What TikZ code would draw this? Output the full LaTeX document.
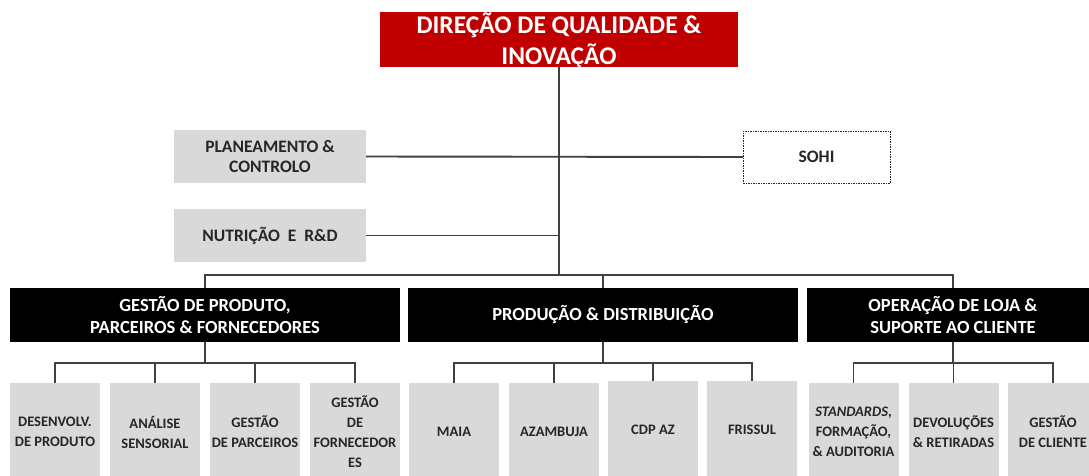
\documentclass[tikz,border=0pt]{standalone}
\usepackage{fontspec}
\setmainfont{Carlito}
\definecolor{redbox}{HTML}{C00000}
\definecolor{graybox}{HTML}{D9D9D9}
\definecolor{linec}{HTML}{404040}
\definecolor{txt}{HTML}{262626}
\begin{document}
\begin{tikzpicture}[x=1pt,y=-1pt,
  base/.style={inner sep=0pt, outer sep=0pt, align=center, font=\bfseries},
  topbox/.style={inner sep=0pt, outer sep=0pt, fill=redbox, text=white, font=\fontsize{25.5}{31.5}\selectfont\bfseries},
  midbox/.style={base, fill=graybox, text=txt, minimum width=192pt, minimum height=53pt, font=\fontsize{17.5}{20.5}\selectfont\bfseries},
  sohibox/.style={base, draw=txt, line width=1pt, dash pattern=on 1.5pt off 1pt, text=txt, minimum width=147pt, minimum height=52pt, font=\fontsize{17.5}{20.5}\selectfont\bfseries},
  blackbox/.style={base, fill=black, text=white, minimum height=54pt, font=\fontsize{18.5}{22.5}\selectfont\bfseries},
  childbox/.style={base, fill=graybox, text=txt, minimum width=90pt, minimum height=98pt, font=\fontsize{14.5}{20}\selectfont\bfseries},
  conn/.style={draw=linec, line width=1.9pt}
]
\useasboundingbox (0,0) rectangle (1089,475);
\clip (0,0) rectangle (1089,475);
\fill[white] (0,0) rectangle (1089,475);

% top
\node[topbox] (top) at (559,39.5) {\parbox[c][55pt][c]{358pt}{\centering\vspace*{3pt}DIREÇÃO DE QUALIDADE \&\\INOVAÇÃO}};
% staff
\node[midbox] (plan) at (270,156.5) {PLANEAMENTO \&\\CONTROLO};
\node[midbox] (nutr) at (270,235.5) {NUTRIÇÃO\ \ E\ \ R\&D};
\node[sohibox] (sohi) at (816.5,157) {SOHI};

% departments
\node[blackbox, minimum width=390pt] (gppf) at (205,315) {GESTÃO DE PRODUTO,\\PARCEIROS \& FORNECEDORES};
\node[blackbox, minimum width=390pt] (pd) at (603,315) {PRODUÇÃO \& DISTRIBUIÇÃO};
\node[blackbox, minimum width=292pt] (olsc) at (953,315) {OPERAÇÃO DE LOJA \&\\SUPORTE AO CLIENTE};

% children GPPF
\node[childbox] (g1) at (55,432) {DESENVOLV.\\DE PRODUTO};
\node[childbox] (g2) at (155,432) {ANÁLISE\\SENSORIAL};
\node[childbox] (g3) at (255,432) {GESTÃO\\DE PARCEIROS};
\node[childbox] (g4) at (355,432) {GESTÃO\\DE\\FORNECEDOR\\ES};
% children PD
\node[childbox] (p1) at (454,432) {MAIA};
\node[childbox] (p2) at (554,432) {AZAMBUJA};
\node[childbox] (p3) at (653,430) {CDP AZ};
\node[childbox] (p4) at (752,430) {FRISSUL};
% children OLSC
\node[childbox] (o1) at (853.5,432) {\textit{STANDARDS},\\FORMAÇÃO,\\\& AUDITORIA};
\node[childbox] (o2) at (953.5,432) {DEVOLUÇÕES\\\& RETIRADAS};
\node[childbox] (o3) at (1053,432) {GESTÃO\\DE CLIENTE};

\coordinate (trunk) at (559,275);
% trunk
\draw[conn] (top.south) -- (trunk);
\draw[conn] (plan.east) -- (sohi.west);
\draw[conn] (nutr.east) -- (nutr.east -| trunk);
% distribution bar
\draw[conn] (gppf.north) -- ++(0,-13) -| (olsc.north);
\draw[conn] (pd.north) -- ++(0,-13);

% child connectors
\foreach \c in {g1,g2,g3,g4} \draw[conn] (gppf.south) -- ++(0,21) -| (\c.north);
\foreach \c in {p1,p2,p3,p4} \draw[conn] (pd.south) -- ++(0,21) -| (\c.north);
\foreach \c in {o1,o2,o3} \draw[conn] (olsc.south) -- ++(0,21) -| (\c.north);
\end{tikzpicture}
\end{document}
